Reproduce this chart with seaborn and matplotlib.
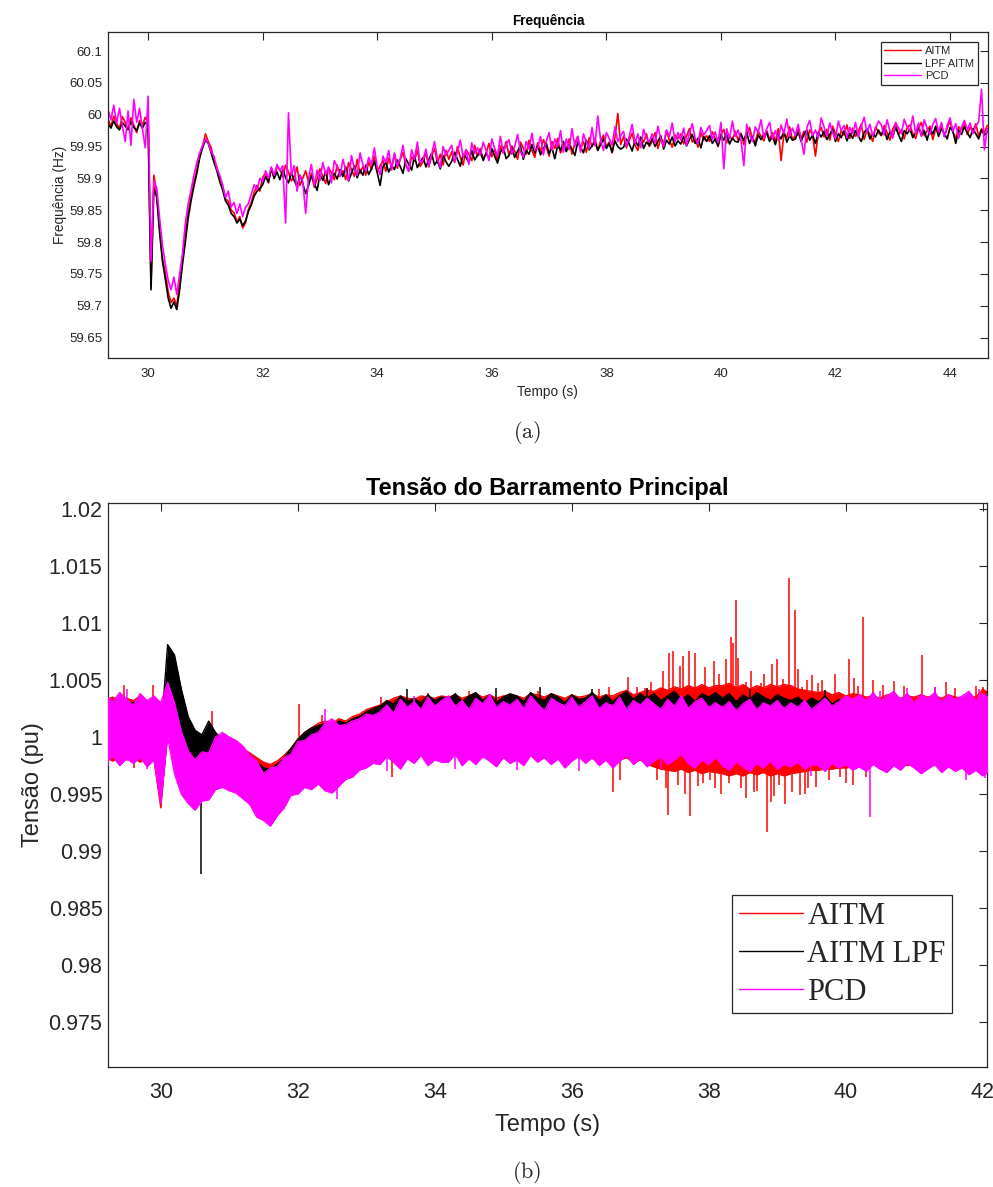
import numpy as np
import matplotlib
matplotlib.use("Agg")
import matplotlib.pyplot as plt
import seaborn as sns
from matplotlib.lines import Line2D
from matplotlib.ticker import FormatStrFormatter, MultipleLocator

# ── Frequência (Hz): amostras a cada 50 ms a partir de 29.30 s ──
T0_F, DT_F = 29.30, 0.05

freq_aitm = [
    59.994, 59.981, 59.998, 59.986, 59.979, 59.997, 59.988, 59.976, 59.995, 59.984,
    59.972, 59.991, 59.983, 59.996, 59.988, 59.730, 59.905, 59.875, 59.822, 59.775,
    59.752, 59.722, 59.705, 59.712, 59.700, 59.738, 59.770, 59.815, 59.850, 59.872,
    59.895, 59.912, 59.938, 59.950, 59.970, 59.958, 59.948, 59.928, 59.918, 59.900,
    59.888, 59.868, 59.864, 59.850, 59.846, 59.832, 59.840, 59.822, 59.830, 59.851,
    59.862, 59.878, 59.889, 59.880, 59.902, 59.908, 59.893, 59.915, 59.900, 59.918,
    59.915, 59.902, 59.921, 59.910, 59.896, 59.903, 59.918, 59.889, 59.900, 59.912,
    59.894, 59.908, 59.886, 59.899, 59.915, 59.903, 59.892, 59.917, 59.909, 59.898,
    59.921, 59.904, 59.912, 59.898, 59.925, 59.914, 59.903, 59.930, 59.908, 59.919,
    59.905, 59.926, 59.914, 59.935, 59.909, 59.920, 59.928, 59.911, 59.932, 59.917,
    59.938, 59.916, 59.929, 59.941, 59.920, 59.912, 59.934, 59.927, 59.945, 59.919,
    59.926, 59.940, 59.918, 59.935, 59.947, 59.924, 59.938, 59.921, 59.944, 59.930,
    59.942, 59.925, 59.950, 59.933, 59.921, 59.945, 59.938, 59.928, 59.952, 59.935,
    59.947, 59.930, 59.939, 59.955, 59.934, 59.946, 59.926, 59.951, 59.940, 59.958,
    59.936, 59.951, 59.943, 59.930, 59.957, 59.948, 59.938, 59.960, 59.944, 59.933,
    59.956, 59.942, 59.961, 59.950, 59.935, 59.958, 59.947, 59.963, 59.940, 59.952,
    59.945, 59.962, 59.938, 59.955, 59.966, 59.947, 59.958, 59.941, 59.964, 59.950,
    59.962, 59.944, 59.959, 59.968, 59.950, 59.957, 59.940, 59.965, 60.002, 59.953,
    59.966, 59.948, 59.960, 59.971, 59.952, 59.944, 59.963, 59.957, 59.970, 59.950,
    59.958, 59.972, 59.947, 59.963, 59.955, 59.975, 59.960, 59.949, 59.968, 59.962,
    59.970, 59.954, 59.966, 59.978, 59.957, 59.963, 59.949, 59.972, 59.960, 59.967,
    59.958, 59.973, 59.962, 59.950, 59.969, 59.977, 59.956, 59.966, 59.961, 59.974,
    59.960, 59.971, 59.953, 59.968, 59.980, 59.962, 59.957, 59.974, 59.966, 59.959,
    59.975, 59.961, 59.972, 59.958, 59.978, 59.928, 59.970, 59.964, 59.981, 59.960,
    59.968, 59.979, 59.963, 59.974, 59.957, 59.976, 59.969, 59.935, 59.972, 59.980,
    59.965, 59.977, 59.960, 59.982, 59.970, 59.958, 59.975, 59.968, 59.984, 59.963,
    59.979, 59.966, 59.974, 59.985, 59.961, 59.976, 59.970, 59.958, 59.981, 59.972,
    59.967, 59.983, 59.972, 59.960, 59.978, 59.986, 59.969, 59.976, 59.962, 59.980,
    59.984, 59.970, 59.963, 59.979, 59.988, 59.967, 59.975, 59.982, 59.961, 59.978,
    59.971, 59.985, 59.966, 59.979, 59.990, 59.973, 59.962, 59.981, 59.976, 59.987,
    59.969, 59.980, 59.974, 59.986, 59.966, 59.978, 59.972, 59.983,
]

freq_lpf = [
    59.986, 59.979, 59.990, 59.981, 59.976, 59.988, 59.982, 59.977, 59.989, 59.980,
    59.975, 59.987, 59.979, 59.988, 59.983, 59.725, 59.885, 59.870, 59.815, 59.770,
    59.742, 59.712, 59.696, 59.706, 59.694, 59.725, 59.765, 59.800, 59.838, 59.865,
    59.888, 59.908, 59.932, 59.948, 59.960, 59.955, 59.940, 59.925, 59.912, 59.895,
    59.882, 59.865, 59.858, 59.845, 59.840, 59.830, 59.836, 59.826, 59.833, 59.848,
    59.858, 59.872, 59.880, 59.884, 59.890, 59.903, 59.894, 59.916, 59.900, 59.910,
    59.898, 59.914, 59.901, 59.893, 59.909, 59.897, 59.887, 59.905, 59.892, 59.876,
    59.889, 59.904, 59.893, 59.881, 59.906, 59.897, 59.911, 59.890, 59.902, 59.908,
    59.899, 59.914, 59.903, 59.918, 59.896, 59.908, 59.920, 59.901, 59.913, 59.905,
    59.921, 59.906, 59.915, 59.927, 59.909, 59.889, 59.918, 59.925, 59.910, 59.920,
    59.914, 59.929, 59.919, 59.908, 59.931, 59.922, 59.913, 59.935, 59.917, 59.926,
    59.933, 59.918, 59.930, 59.939, 59.921, 59.928, 59.915, 59.936, 59.926, 59.919,
    59.927, 59.941, 59.930, 59.919, 59.938, 59.933, 59.925, 59.944, 59.929, 59.936,
    59.943, 59.928, 59.940, 59.932, 59.947, 59.935, 59.924, 59.941, 59.949, 59.931,
    59.936, 59.948, 59.933, 59.943, 59.951, 59.930, 59.944, 59.938, 59.953, 59.940,
    59.951, 59.937, 59.946, 59.956, 59.939, 59.948, 59.931, 59.952, 59.944, 59.958,
    59.942, 59.953, 59.946, 59.936, 59.957, 59.949, 59.940, 59.960, 59.945, 59.951,
    59.958, 59.944, 59.953, 59.962, 59.947, 59.955, 59.941, 59.959, 59.950, 59.946,
    59.949, 59.962, 59.954, 59.943, 59.960, 59.951, 59.965, 59.947, 59.957, 59.952,
    59.963, 59.950, 59.958, 59.967, 59.946, 59.960, 59.954, 59.965, 59.951, 59.959,
    59.954, 59.966, 59.951, 59.961, 59.969, 59.955, 59.963, 59.948, 59.966, 59.958,
    59.967, 59.955, 59.962, 59.951, 59.969, 59.960, 59.971, 59.954, 59.963, 59.958,
    59.957, 59.969, 59.960, 59.972, 59.955, 59.966, 59.951, 59.968, 59.961, 59.970,
    59.971, 59.958, 59.966, 59.953, 59.969, 59.962, 59.974, 59.957, 59.967, 59.960,
    59.962, 59.973, 59.958, 59.969, 59.976, 59.960, 59.968, 59.955, 59.972, 59.965,
    59.974, 59.961, 59.969, 59.977, 59.958, 59.970, 59.964, 59.975, 59.959, 59.971,
    59.963, 59.975, 59.966, 59.958, 59.972, 59.978, 59.962, 59.970, 59.965, 59.976,
    59.968, 59.978, 59.961, 59.973, 59.966, 59.980, 59.969, 59.958, 59.975, 59.970,
    59.977, 59.964, 59.972, 59.981, 59.967, 59.975, 59.960, 59.978, 59.970, 59.982,
    59.966, 59.978, 59.971, 59.962, 59.980, 59.974, 59.955, 59.976, 59.969, 59.981,
    59.972, 59.964, 59.978, 59.970, 59.962, 59.976, 59.968, 59.973,
]

freq_pcd = [
    60.008, 59.992, 60.015, 59.987, 60.010, 59.982, 59.958, 60.006, 59.952, 60.024,
    59.988, 60.010, 59.978, 59.948, 60.029, 59.770, 59.895, 59.885, 59.838, 59.795,
    59.765, 59.740, 59.725, 59.745, 59.718, 59.750, 59.782, 59.830, 59.860, 59.882,
    59.905, 59.925, 59.940, 59.952, 59.962, 59.955, 59.942, 59.935, 59.915, 59.905,
    59.890, 59.870, 59.880, 59.855, 59.862, 59.845, 59.860, 59.840, 59.855, 59.860,
    59.875, 59.890, 59.882, 59.900, 59.895, 59.912, 59.900, 59.918, 59.905, 59.922,
    59.912, 59.920, 59.830, 60.003, 59.905, 59.920, 59.880, 59.905, 59.895, 59.845,
    59.900, 59.922, 59.889, 59.913, 59.897, 59.925, 59.906, 59.918, 59.893, 59.928,
    59.918, 59.903, 59.930, 59.912, 59.896, 59.936, 59.915, 59.905, 59.940, 59.921,
    59.911, 59.933, 59.922, 59.948, 59.917, 59.906, 59.935, 59.925, 59.944, 59.913,
    59.940, 59.919, 59.931, 59.952, 59.922, 59.911, 59.945, 59.930, 59.957, 59.924,
    59.929, 59.946, 59.920, 59.938, 59.958, 59.931, 59.917, 59.950, 59.936, 59.944,
    59.952, 59.926, 59.941, 59.960, 59.933, 59.945, 59.922, 59.956, 59.939, 59.948,
    59.936, 59.957, 59.944, 59.928, 59.962, 59.947, 59.935, 59.966, 59.940, 59.953,
    59.961, 59.938, 59.950, 59.969, 59.942, 59.933, 59.958, 59.946, 59.971, 59.944,
    59.947, 59.966, 59.937, 59.958, 59.972, 59.944, 59.962, 59.950, 59.975, 59.941,
    59.962, 59.945, 59.978, 59.950, 59.966, 59.941, 59.970, 59.957, 59.947, 59.980,
    59.951, 59.998, 59.960, 59.944, 59.972, 59.963, 59.952, 59.981, 59.958, 59.967,
    59.974, 59.950, 59.966, 59.985, 59.955, 59.970, 59.948, 59.977, 59.963, 59.958,
    59.970, 59.955, 59.982, 59.962, 59.950, 59.976, 59.966, 59.987, 59.957, 59.972,
    59.960, 59.979, 59.952, 59.971, 59.986, 59.963, 59.955, 59.980, 59.968, 59.975,
    59.983, 59.961, 59.973, 59.956, 59.988, 59.915, 59.978, 59.962, 59.990, 59.966,
    59.976, 59.960, 59.920, 59.985, 59.968, 59.958, 59.981, 59.972, 59.992, 59.963,
    59.978, 59.988, 59.962, 59.975, 59.960, 59.984, 59.970, 59.993, 59.966, 59.979,
    59.968, 59.985, 59.961, 59.938, 59.980, 59.991, 59.967, 59.976, 59.963, 59.995,
    59.981, 59.966, 59.987, 59.972, 59.962, 59.990, 59.975, 59.983, 59.964, 59.980,
    59.970, 59.988, 59.965, 59.982, 59.996, 59.972, 59.985, 59.967, 59.978, 59.990,
    59.984, 59.968, 59.992, 59.975, 59.963, 59.988, 59.979, 59.970, 59.993, 59.981,
    59.975, 59.998, 59.970, 59.987, 59.966, 59.992, 59.978, 59.969, 59.985, 59.994,
    59.972, 59.988, 59.965, 59.983, 59.995, 59.974, 59.986, 59.963, 59.980, 59.991,
    59.976, 59.987, 59.970, 59.982, 59.989, 60.040, 59.945, 59.978,
]

# ── Tensão (pu): envoltória da faixa de ruído a cada 100 ms a partir de 29.2 s ──
T0_V, DT_V = 29.2, 0.1

v_aitm_hi = [
    1.0033, 1.0035, 1.0031, 1.0034, 1.0032, 1.0036, 1.0030, 1.0034, 1.0000, 1.0052,
    1.0050, 1.0030, 1.0010, 1.0002, 0.9998, 1.0010, 1.0002, 0.9996, 0.9994, 0.9990,
    0.9990, 0.9986, 0.9982, 0.9978, 0.9976, 0.9979, 0.9984, 0.9990, 0.9998, 1.0004,
    1.0008, 1.0012, 1.0014, 1.0012, 1.0016, 1.0014, 1.0018, 1.0020, 1.0024, 1.0026,
    1.0028, 1.0031, 1.0034, 1.0036, 1.0034, 1.0033, 1.0036, 1.0035, 1.0034, 1.0036,
    1.0035, 1.0037, 1.0034, 1.0036, 1.0038, 1.0035, 1.0037, 1.0034, 1.0036, 1.0037,
    1.0036, 1.0034, 1.0038, 1.0037, 1.0035, 1.0038, 1.0036, 1.0034, 1.0037, 1.0035,
    1.0036, 1.0038, 1.0035, 1.0037, 1.0036, 1.0039, 1.0041, 1.0037, 1.0039, 1.0041,
    1.0040, 1.0043, 1.0041, 1.0044, 1.0042, 1.0045, 1.0043, 1.0046, 1.0043, 1.0045,
    1.0045, 1.0047, 1.0043, 1.0046, 1.0042, 1.0045, 1.0043, 1.0046, 1.0044, 1.0046,
    1.0045, 1.0042, 1.0041, 1.0040, 1.0039, 1.0040, 1.0037, 1.0039, 1.0036, 1.0038,
    1.0037, 1.0035, 1.0036, 1.0034, 1.0037, 1.0035, 1.0034, 1.0036, 1.0035, 1.0037,
    1.0035, 1.0036, 1.0034, 1.0037, 1.0035, 1.0034, 1.0036, 1.0035, 1.0042, 1.0038,
]
v_aitm_lo = [
    0.9982, 0.9979, 0.9983, 0.9980, 0.9982, 0.9978, 0.9983, 0.9981, 0.9938, 1.0005,
    1.0005, 0.9980, 0.9965, 0.9960, 0.9958, 0.9965, 0.9960, 0.9958, 0.9956, 0.9953,
    0.9950, 0.9944, 0.9936, 0.9930, 0.9928, 0.9932, 0.9942, 0.9950, 0.9955, 0.9958,
    0.9962, 0.9964, 0.9966, 0.9964, 0.9968, 0.9972, 0.9975, 0.9978, 0.9982, 0.9985,
    0.9988, 0.9990, 0.9992, 0.9990, 0.9992, 0.9990, 0.9989, 0.9991, 0.9990, 0.9992,
    0.9984, 0.9986, 0.9983, 0.9985, 0.9984, 0.9982, 0.9985, 0.9983, 0.9986, 0.9984,
    0.9985, 0.9983, 0.9986, 0.9984, 0.9982, 0.9985, 0.9983, 0.9986, 0.9984, 0.9982,
    0.9983, 0.9981, 0.9984, 0.9982, 0.9978, 0.9980, 0.9982, 0.9978, 0.9980, 0.9976,
    0.9974, 0.9972, 0.9971, 0.9970, 0.9972, 0.9969, 0.9971, 0.9968, 0.9970, 0.9969,
    0.9968, 0.9966, 0.9968, 0.9966, 0.9969, 0.9967, 0.9969, 0.9966, 0.9968, 0.9966,
    0.9968, 0.9969, 0.9970, 0.9971, 0.9971, 0.9972, 0.9972, 0.9973, 0.9973, 0.9974,
    0.9976, 0.9975, 0.9977, 0.9976, 0.9975, 0.9977, 0.9976, 0.9975, 0.9977, 0.9976,
    0.9976, 0.9975, 0.9977, 0.9976, 0.9975, 0.9977, 0.9976, 0.9975, 0.9977, 0.9976,
]

v_lpf_hi = [
    1.0030, 1.0032, 1.0029, 1.0031, 1.0030, 1.0032, 1.0029, 1.0031, 1.0002, 1.0081,
    1.0072, 1.0042, 1.0018, 1.0006, 1.0002, 1.0014, 1.0004, 0.9998, 0.9996, 0.9993,
    0.9988, 0.9984, 0.9978, 0.9973, 0.9972, 0.9976, 0.9982, 0.9990, 0.9998, 1.0004,
    1.0008, 1.0010, 1.0012, 1.0010, 1.0014, 1.0012, 1.0016, 1.0018, 1.0022, 1.0025,
    1.0027, 1.0032, 1.0029, 1.0036, 1.0031, 1.0034, 1.0030, 1.0037, 1.0032, 1.0035,
    1.0033, 1.0038, 1.0031, 1.0036, 1.0039, 1.0032, 1.0037, 1.0030, 1.0035, 1.0038,
    1.0036, 1.0031, 1.0039, 1.0034, 1.0032, 1.0038, 1.0035, 1.0030, 1.0037, 1.0033,
    1.0034, 1.0039, 1.0032, 1.0037, 1.0031, 1.0036, 1.0040, 1.0033, 1.0038, 1.0034,
    1.0038, 1.0032, 1.0036, 1.0040, 1.0033, 1.0037, 1.0031, 1.0038, 1.0035, 1.0039,
    1.0034, 1.0038, 1.0031, 1.0037, 1.0033, 1.0039, 1.0035, 1.0032, 1.0037, 1.0034,
    1.0032, 1.0035, 1.0030, 1.0034, 1.0031, 1.0036, 1.0029, 1.0033, 1.0031, 1.0030,
    1.0031, 1.0029, 1.0032, 1.0030, 1.0031, 1.0029, 1.0032, 1.0030, 1.0031, 1.0029,
    1.0031, 1.0029, 1.0032, 1.0030, 1.0031, 1.0029, 1.0032, 1.0030, 1.0031, 1.0029,
]
v_lpf_lo = [
    0.9985, 0.9987, 0.9984, 0.9986, 0.9985, 0.9987, 0.9984, 0.9986, 0.9955, 1.0045,
    1.0028, 0.9998, 0.9976, 0.9972, 0.9968, 0.9975, 0.9965, 0.9962, 0.9960, 0.9956,
    0.9952, 0.9945, 0.9938, 0.9932, 0.9928, 0.9932, 0.9942, 0.9952, 0.9958, 0.9962,
    0.9968, 0.9970, 0.9972, 0.9970, 0.9975, 0.9978, 0.9980, 0.9984, 0.9988, 0.9992,
    0.9995, 0.9998, 1.0000, 1.0003, 1.0004, 1.0002, 1.0004, 1.0005, 1.0003, 1.0004,
    1.0004, 1.0006, 1.0003, 1.0005, 1.0007, 1.0004, 1.0006, 1.0003, 1.0005, 1.0006,
    1.0005, 1.0003, 1.0007, 1.0006, 1.0004, 1.0006, 1.0005, 1.0003, 1.0006, 1.0004,
    1.0005, 1.0007, 1.0004, 1.0006, 1.0003, 1.0005, 1.0007, 1.0004, 1.0006, 1.0005,
    1.0006, 1.0004, 1.0007, 1.0005, 1.0008, 1.0004, 1.0006, 1.0005, 1.0007, 1.0004,
    1.0005, 1.0007, 1.0004, 1.0006, 1.0003, 1.0005, 1.0007, 1.0004, 1.0006, 1.0005,
    1.0003, 1.0001, 1.0004, 1.0002, 1.0000, 1.0003, 1.0001, 1.0002, 1.0000, 1.0001,
    0.9995, 0.9993, 0.9996, 0.9994, 0.9995, 0.9993, 0.9996, 0.9994, 0.9995, 0.9993,
    0.9994, 0.9992, 0.9995, 0.9993, 0.9994, 0.9992, 0.9995, 0.9993, 0.9994, 0.9992,
]

v_pcd_hi = [
    1.0036, 1.0031, 1.0039, 1.0033, 1.0028, 1.0038, 1.0032, 1.0036, 1.0030, 1.0048,
    1.0030, 1.0005, 0.9988, 0.9980, 0.9987, 0.9986, 1.0000, 1.0004, 1.0000, 0.9997,
    0.9992, 0.9984, 0.9979, 0.9968, 0.9973, 0.9974, 0.9982, 0.9985, 0.9996, 0.9997,
    1.0002, 1.0004, 1.0012, 1.0016, 1.0010, 1.0011, 1.0014, 1.0016, 1.0020, 1.0019,
    1.0022, 1.0028, 1.0021, 1.0033, 1.0026, 1.0031, 1.0024, 1.0035, 1.0027, 1.0032,
    1.0036, 1.0027, 1.0032, 1.0024, 1.0034, 1.0029, 1.0037, 1.0026, 1.0031, 1.0028,
    1.0033, 1.0025, 1.0036, 1.0029, 1.0023, 1.0034, 1.0030, 1.0027, 1.0035, 1.0026,
    1.0031, 1.0036, 1.0025, 1.0030, 1.0027, 1.0035, 1.0024, 1.0032, 1.0028, 1.0034,
    1.0029, 1.0024, 1.0033, 1.0027, 1.0036, 1.0025, 1.0031, 1.0034, 1.0026, 1.0030,
    1.0026, 1.0031, 1.0023, 1.0029, 1.0033, 1.0024, 1.0030, 1.0027, 1.0032, 1.0025,
    1.0030, 1.0026, 1.0032, 1.0024, 1.0029, 1.0034, 1.0027, 1.0031, 1.0036, 1.0033,
    1.0037, 1.0032, 1.0039, 1.0031, 1.0036, 1.0040, 1.0033, 1.0038, 1.0030, 1.0037,
    1.0034, 1.0039, 1.0031, 1.0037, 1.0033, 1.0036, 1.0040, 1.0032, 1.0038, 1.0035,
]
v_pcd_lo = [
    0.9978, 0.9983, 0.9975, 0.9981, 0.9977, 0.9982, 0.9974, 0.9980, 0.9942, 1.0000,
    0.9968, 0.9950, 0.9942, 0.9936, 0.9944, 0.9945, 0.9954, 0.9956, 0.9953, 0.9951,
    0.9946, 0.9941, 0.9930, 0.9927, 0.9922, 0.9931, 0.9938, 0.9949, 0.9950, 0.9956,
    0.9954, 0.9959, 0.9953, 0.9951, 0.9957, 0.9963, 0.9965, 0.9971, 0.9973, 0.9977,
    0.9976, 0.9983, 0.9978, 0.9972, 0.9981, 0.9977, 0.9984, 0.9975, 0.9980, 0.9978,
    0.9978, 0.9985, 0.9975, 0.9981, 0.9976, 0.9983, 0.9979, 0.9974, 0.9982, 0.9977,
    0.9980, 0.9975, 0.9984, 0.9978, 0.9982, 0.9976, 0.9981, 0.9973, 0.9979, 0.9983,
    0.9977, 0.9982, 0.9975, 0.9980, 0.9973, 0.9979, 0.9984, 0.9976, 0.9981, 0.9974,
    0.9979, 0.9983, 0.9976, 0.9980, 0.9985, 0.9977, 0.9973, 0.9980, 0.9976, 0.9982,
    0.9975, 0.9971, 0.9978, 0.9974, 0.9970, 0.9977, 0.9973, 0.9979, 0.9972, 0.9976,
    0.9974, 0.9978, 0.9972, 0.9976, 0.9975, 0.9970, 0.9977, 0.9973, 0.9976, 0.9971,
    0.9974, 0.9970, 0.9976, 0.9972, 0.9969, 0.9975, 0.9971, 0.9977, 0.9973, 0.9968,
    0.9972, 0.9976, 0.9969, 0.9974, 0.9970, 0.9973, 0.9967, 0.9971, 0.9966, 0.9970,
]

# picos isolados que saem da faixa
aitm_spike_t = [29.46, 29.61, 29.89, 30.75, 32.02, 32.35, 33.22, 33.38, 33.54, 35.06,
                36.55, 36.60, 36.82, 37.07, 37.33, 37.37, 37.40, 37.42, 37.48, 37.62,
                37.71, 37.73, 37.80, 37.91, 37.95, 38.08, 38.09, 38.25, 38.33, 38.40,
                38.43, 38.54, 38.55, 38.70, 38.77, 38.85, 38.91, 38.92, 38.99, 39.08,
                39.11, 39.17, 39.26, 39.33, 39.36, 39.44, 39.45, 39.51, 39.57, 39.66,
                39.92, 40.05, 40.11, 40.12, 40.25, 40.40, 40.70, 41.11, 41.46, 42.00,
                33.90, 34.50, 35.50, 36.40, 36.70, 36.95, 37.15, 37.25, 37.55, 37.58,
                37.66, 37.85, 38.02, 38.15, 38.18, 38.30, 38.36, 38.47, 38.62, 38.66,
                38.80, 38.95, 39.02, 39.21, 39.30, 39.40, 39.60, 39.75, 39.85, 40.00,
                40.18, 40.30, 40.55, 40.85, 41.30, 41.60, 41.90]
aitm_spike_v = [1.0046, 0.9973, 1.0046, 1.0023, 1.0029, 1.0019, 1.0035, 0.9965, 1.0034, 1.0035,
                1.0044, 0.9952, 1.0053, 1.0043, 1.0058, 0.9955, 0.9932, 1.0074, 1.0075, 1.0071,
                1.0075, 0.9931, 1.0074, 0.9960, 1.0061, 1.0067, 0.9955, 1.0068, 1.0088, 1.0120,
                1.0069, 1.0048, 0.9947, 0.9953, 1.0047, 0.9917, 0.9943, 1.0064, 1.0068, 1.0051,
                0.9941, 1.0139, 1.0111, 0.9949, 1.0044, 1.0050, 0.9955, 1.0054, 0.9956, 1.0050,
                0.9965, 1.0068, 0.9958, 1.0052, 1.0105, 1.0050, 1.0049, 1.0072, 1.0048, 1.0044,
                1.0039, 1.0040, 1.0040, 1.0042, 0.9962, 1.0044, 1.0048, 0.9962, 0.9958, 1.0062,
                0.9950, 0.9957, 0.9962, 1.0055, 0.9950, 0.9960, 1.0082, 0.9955, 1.0058, 0.9952,
                1.0055, 0.9948, 0.9958, 0.9952, 1.0060, 0.9950, 1.0047, 0.9962, 1.0055, 0.9960,
                1.0045, 0.9965, 1.0046, 1.0045, 1.0044, 1.0043, 1.0045]
lpf_spike_t = [30.58, 33.60, 34.90, 35.54, 36.30, 37.10, 38.60, 39.70]
lpf_spike_v = [0.9880, 1.0042, 1.0043, 1.0044, 1.0042, 1.0043, 1.0042, 1.0041]
pcd_spike_t = [29.23, 29.50, 29.80, 32.40, 32.57, 33.30, 33.70, 34.30, 34.80, 35.20,
               36.10, 37.30, 39.50, 40.36, 40.50, 40.90, 41.30, 41.76, 41.95, 42.03]
pcd_spike_v = [0.9975, 1.0042, 0.9972, 1.0025, 0.9946, 0.9970, 1.0036, 0.9972, 1.0038, 0.9971,
               0.9970, 0.9972, 0.9966, 0.9930, 1.0040, 1.0043, 1.0044, 0.9962, 1.0042, 0.9964]

LABELS_F = ["AITM", "LPF AITM", "PCD"]
LABELS_V = ["AITM", "AITM LPF", "PCD"]
COLORS = ["#ff0000", "#000000", "#ff00ff"]
AX_COLOR = "#262626"

sns.set_theme(style="white")
plt.rcParams["font.family"] = ["Liberation Sans", "DejaVu Sans"]
plt.rcParams["mathtext.fontset"] = "cm"

fig = plt.figure(figsize=(9.93, 11.87), dpi=100)
ax1 = fig.add_axes([0.1088, 0.6984, 0.886, 0.2747])
ax2 = fig.add_axes([0.1088, 0.1011, 0.885, 0.4751])


def matlab_axes(ax, fs, pad):
    for sp in ax.spines.values():
        sp.set_visible(True)
        sp.set_color(AX_COLOR)
        sp.set_linewidth(0.9)
    ax.tick_params(direction="in", top=True, right=True, length=6, width=0.8,
                   color=AX_COLOR, labelcolor=AX_COLOR, labelsize=fs, pad=4)
    ax.tick_params(axis="x", pad=pad)
    ax.yaxis.set_major_formatter(FormatStrFormatter("%g"))
    ax.set_facecolor("white")


# ── (a) Frequência ──
t_f = T0_F + DT_F * np.arange(len(freq_aitm))
for vals, lab, col in zip([freq_aitm, freq_lpf, freq_pcd], LABELS_F, COLORS):
    sns.lineplot(x=t_f, y=vals, color=col, lw=1.2, label=lab, ax=ax1,
                 estimator=None, sort=False)
ax1.set_xlim(29.3, 44.66)
ax1.set_ylim(59.618, 60.13)
ax1.xaxis.set_major_locator(MultipleLocator(2))
ax1.yaxis.set_major_locator(MultipleLocator(0.05))
matlab_axes(ax1, 9.5, 7.5)
ax1.set_title("Frequência", fontsize=9.8, fontweight="bold", color="black", pad=5)
ax1.set_xlabel("Tempo (s)", fontsize=9.8, color=AX_COLOR, labelpad=3)
ax1.set_ylabel("Frequência (Hz)", fontsize=9.8, color=AX_COLOR, labelpad=1.5)
leg1 = ax1.legend(loc="upper right", fontsize=8, frameon=True, fancybox=False,
                  framealpha=1, edgecolor=AX_COLOR, borderaxespad=0.9,
                  handlelength=3.3, handletextpad=0.35, labelspacing=0.25,
                  borderpad=0.35)
leg1.get_frame().set_linewidth(0.9)
for ln in leg1.get_lines():
    ln.set_linewidth(1.0)

# ── (b) Tensão ──
t_v = T0_V + DT_V * np.arange(len(v_pcd_hi))
bands = [(v_aitm_lo, v_aitm_hi), (v_lpf_lo, v_lpf_hi), (v_pcd_lo, v_pcd_hi)]
spikes = [(aitm_spike_t, aitm_spike_v), (lpf_spike_t, lpf_spike_v),
          (pcd_spike_t, pcd_spike_v)]
for k, ((lo, hi), (st, sv), col) in enumerate(zip(bands, spikes, COLORS)):
    z = 2 + 2 * k
    ax2.fill_between(t_v, lo, hi, color=col, lw=0, zorder=z)
    sns.lineplot(x=t_v, y=hi, color=col, lw=1.0, ax=ax2, zorder=z,
                 estimator=None, sort=False, legend=False)
    sns.lineplot(x=t_v, y=lo, color=col, lw=1.0, ax=ax2, zorder=z,
                 estimator=None, sort=False, legend=False)
    ax2.vlines(st, 1.0, sv, color=col, lw=1.1, zorder=z - 0.5 if k == 0 else z)
ax2.set_xlim(29.23, 42.06)
ax2.set_ylim(0.9711, 1.0205)
ax2.xaxis.set_major_locator(MultipleLocator(2))
ax2.yaxis.set_major_locator(MultipleLocator(0.005))
matlab_axes(ax2, 15.5, 11)
ax2.set_title("Tensão do Barramento Principal", fontsize=17, fontweight="bold",
              color="black", pad=6)
ax2.set_xlabel("Tempo (s)", fontsize=17, color=AX_COLOR, labelpad=8)
ax2.set_ylabel("Tensão (pu)", fontsize=17, color=AX_COLOR, labelpad=3)
handles = [Line2D([], [], color=c, lw=1.0) for c in COLORS]
leg2 = ax2.legend(handles, LABELS_V, loc="lower right",
                  bbox_to_anchor=(0.960, 0.0957), borderaxespad=0,
                  prop={"family": "Liberation Serif", "size": 22},
                  frameon=True, fancybox=False, framealpha=1, edgecolor=AX_COLOR,
                  handlelength=2.1, handletextpad=0.15, labelspacing=0.3,
                  borderpad=0.2)
leg2.get_frame().set_linewidth(0.9)

fig.text(527 / 993, 1 - 432 / 1187, r"$\mathrm{(a)}$", ha="center", va="center",
         fontsize=16)
fig.text(527 / 993, 1 - 1172 / 1187, r"$\mathrm{(b)}$", ha="center", va="center",
         fontsize=16)

fig.savefig("out.png", dpi=100, facecolor="white")
